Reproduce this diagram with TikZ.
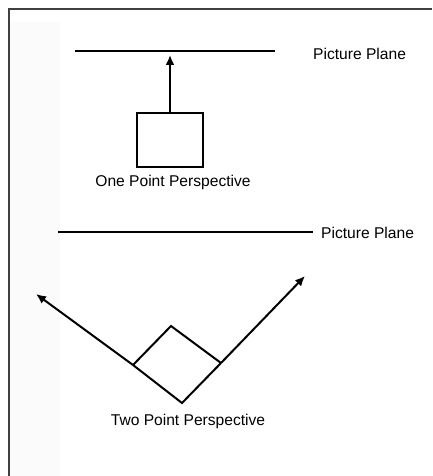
\documentclass[tikz,border=0pt]{standalone}
\usepackage{fontspec}
\setmainfont{Liberation Sans}
\usetikzlibrary{arrows.meta}
\begin{document}
\begin{tikzpicture}[x=1pt,y=-1pt,
  frameline/.style={draw=black!75,line width=1.5pt},
  plane/.style={draw=black,line width=2pt},
  shapeline/.style={draw=black,line width=2pt,line join=miter},
  ray/.style={draw=black,line width=2pt,-{Latex[length=10pt,width=9pt]}},
  lbl/.style={font=\fontsize{15.6}{17}\selectfont,inner sep=0pt}]
\useasboundingbox (0,0) rectangle (432,476);
\fill[black!1.5] (10,22) rectangle (60,476);
% frame
\coordinate (fA) at (9,476);
\coordinate (fB) at (9,9);
\coordinate (fC) at (432,9);
\draw[frameline] (fA) -- (fB) -- (fC);
% one point perspective
\coordinate (p1a) at (75,51);
\coordinate (p1b) at (275,51);
\draw[plane] (p1a) -- (p1b);
\node[lbl,anchor=west] (pp1) at (313,54) {Picture Plane};
\node[shapeline,minimum width=66pt,minimum height=54pt,inner sep=0pt] (box) at (170,140) {};
\coordinate (tip1) at (170,55);
\draw[ray] (box.north) -- (tip1);
\node[lbl] (one) at (173,182) {One Point Perspective};
% two point perspective
\coordinate (p2a) at (58,232);
\coordinate (p2b) at (313,232);
\draw[plane] (p2a) -- (p2b);
\node[lbl,anchor=west] (pp2) at (321,233) {Picture Plane};
\coordinate (dL) at (133,365);
\coordinate (dT) at (171,326);
\coordinate (dR) at (221,363);
\coordinate (dB) at (182,403);
\coordinate (tipL) at (36,294);
\coordinate (tipR) at (305,276);
\draw[shapeline] (dL) -- (dT) -- (dR);
\draw[shapeline] (dL) -- (dB) -- (dR);
\draw[ray] (dL) -- (tipL);
\draw[ray] (dR) -- (tipR);
\node[lbl] (two) at (188,421) {Two Point Perspective};
\end{tikzpicture}
\end{document}
